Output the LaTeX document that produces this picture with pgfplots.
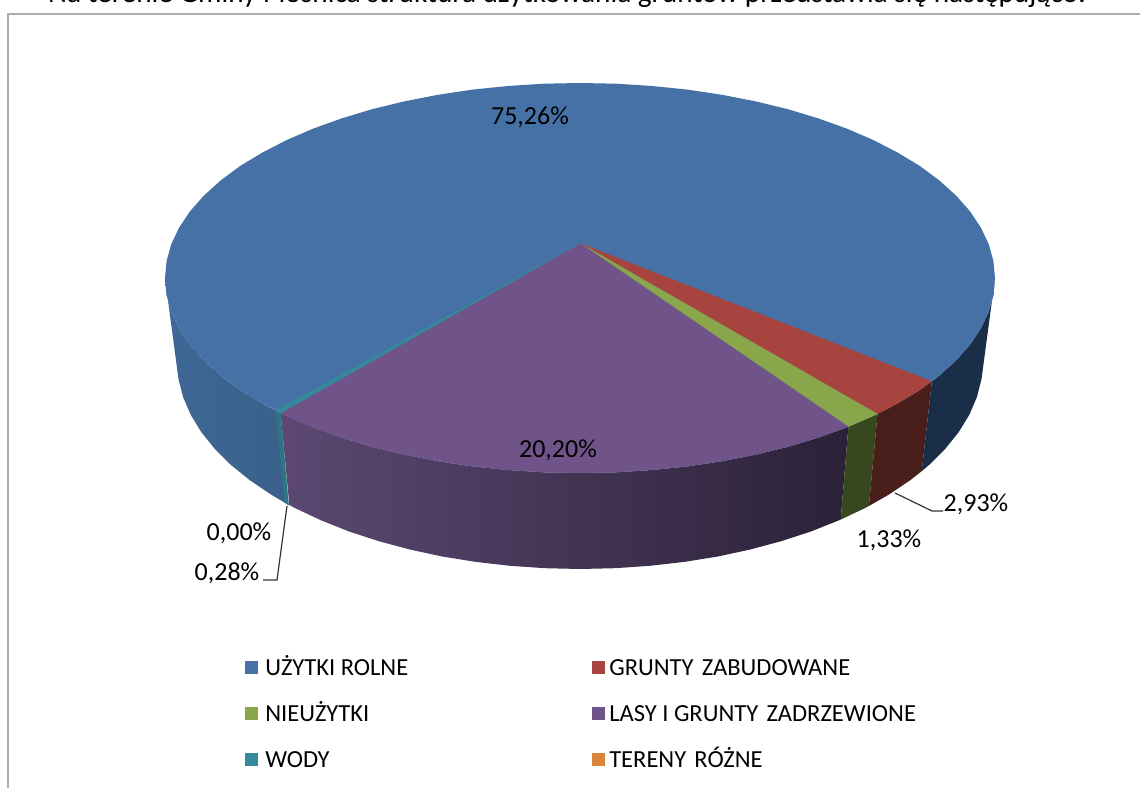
\documentclass[border=0pt]{standalone}
\usepackage{pgfplots}
\pgfplotsset{compat=1.18}
\usepackage{fontspec}
\setmainfont{Carlito}
\definecolor{cblue}{HTML}{4571A6}
\definecolor{cred}{HTML}{A8443F}
\definecolor{cgreen}{HTML}{8AA64B}
\definecolor{cpurple}{HTML}{705389}
\definecolor{cteal}{HTML}{35899B}
\definecolor{corange}{HTML}{DB843D}
\newcommand{\lab}{\fontsize{19.5}{21}\selectfont}
\newcommand{\leg}{\fontsize{18.4}{20}\selectfont}
\begin{document}
\begin{tikzpicture}
\useasboundingbox (0,0) rectangle (855pt,591pt);
\clip (0,0) rectangle (855pt,591pt);
\begin{axis}[at={(0,0)},anchor=south west,scale only axis,width=855pt,height=591pt,
  xmin=0,xmax=1140,ymin=0,ymax=788,y dir=reverse,hide axis,clip=false]
% frame
\addplot[draw=black!32,line width=1.5pt] coordinates {(8,788)(8,14)(1140,14)};
% walls
\addplot[draw=none,left color={rgb,255:red,64;green,104;blue,150},right color={rgb,255:red,58;green,96;blue,138}] coordinates {
(165,278)(166.6,295)(171.3,311.9)(179.2,328.5)(190,344.7)(203.9,360.4)(220.6,375.5)(240,389.9)(262.1,403.3)(276.5,411)
(285.2,502.9)(271.3,494.7)(249.9,480.3)(231,465)(214.8,448.9)(201.3,432.1)(190.7,414.8)(183.1,397.1)(178.5,379.1)};
\addplot[draw=none,left color={rgb,255:red,92;green,72;blue,114},middle color={rgb,255:red,63;green,48;blue,80},right color={rgb,255:red,43;green,33;blue,56}] coordinates {
(280.6,413)(286.6,415.9)(313.2,427.4)(342,437.7)(372.5,446.9)(404.6,454.7)(438.1,461.2)(472.6,466.4)(508,470)(543.8,472.3)(580,473)(616.2,472.3)(652,470)(687.4,466.4)(721.9,461.2)(755.4,454.7)(787.5,446.9)(818,437.7)(846.8,427.4)(848.4,426.7)
(840.7,519.6)(839,520.3)(811.2,531.4)(781.5,541.1)(750.3,549.5)(717.8,556.5)(684.3,561.9)(650,565.8)(615.1,568.2)(580,569)(544.9,568.2)(510,565.8)(475.7,561.9)(442.2,556.5)(409.7,549.5)(378.5,541.1)(348.8,531.4)(321,520.3)(295,508.1)(289.3,505)};
\addplot[draw=cteal!85!black,line width=0.3pt,fill=cteal!85!black] coordinates {(275.5,410.5)(280.6,413)(288.6,505)(284.6,502.5)};
\addplot[draw=none,fill={rgb,255:red,56;green,72;blue,30}] coordinates {(848.4,426.7)(873.4,415.9)(877.5,413.9)(868.9,506)(865,508.1)(840.7,519.6)};
\addplot[draw=none,fill={rgb,255:red,73;green,30;blue,27}] coordinates {(877.5,413.9)(897.9,403.3)(920,389.9)(931.9,381.3)(921.7,471.2)(910.1,480.3)(888.7,494.7)(868.9,506)};
\addplot[draw=none,fill={rgb,255:red,26;green,46;blue,72}] coordinates {(931.9,381.3)(939.4,375.5)(956.1,360.4)(970,344.7)(980.8,328.5)(988.7,311.9)(993.4,295)(995,278)
(981.5,379.1)(976.9,397.1)(969.3,414.8)(958.7,432.1)(945.2,448.9)(929,465)(921.7,471.2)};
% top surface: whole ellipse in blue
\addplot[draw=none,fill=cblue] coordinates {
(995,278)(993.4,295)(988.7,311.9)(980.8,328.5)(970,344.7)(956.1,360.4)(939.4,375.5)(920,389.9)(897.9,403.3)(873.4,415.9)(846.8,427.4)(818,437.7)(787.5,446.9)(755.4,454.7)(721.9,461.2)(687.4,466.4)(652,470)(616.2,472.3)(580,473)(543.8,472.3)(508,470)(472.6,466.4)(438.1,461.2)(404.6,454.7)(372.5,446.9)(342,437.7)(313.2,427.4)(286.6,415.9)(262.1,403.3)(240,389.9)(220.6,375.5)(203.9,360.4)(190,344.7)(179.2,328.5)(171.3,311.9)(166.6,295)(165,278)
(166.6,261)(171.3,244.1)(179.2,227.5)(190,211.3)(203.9,195.6)(220.6,180.5)(240,166.1)(262.1,152.7)(286.6,140.1)(313.2,128.6)(342,118.3)(372.5,109.1)(404.6,101.3)(438.1,94.8)(472.6,89.6)(508,86)(543.8,83.7)(580,83)(616.2,83.7)(652,86)(687.4,89.6)(721.9,94.8)(755.4,101.3)(787.5,109.1)(818,118.3)(846.8,128.6)(873.4,140.1)(897.9,152.7)(920,166.1)(939.4,180.5)(956.1,195.6)(970,211.3)(980.8,227.5)(988.7,244.1)(993.4,261)};
\addplot[draw=none,fill=cred] coordinates {(580,243)(931.9,381.3)(920,389.9)(897.9,403.3)(877.5,413.9)};
\addplot[draw=none,fill=cgreen] coordinates {(580,243)(877.5,413.9)(873.4,415.9)(848.4,426.7)};
\addplot[draw=none,fill=cpurple] coordinates {(580,243)(848.4,426.7)(846.8,427.4)(818,437.7)(787.5,446.9)(755.4,454.7)(721.9,461.2)(687.4,466.4)(652,470)(616.2,472.3)(580,473)(543.8,472.3)(508,470)(472.6,466.4)(438.1,461.2)(404.6,454.7)(372.5,446.9)(342,437.7)(313.2,427.4)(286.6,415.9)(280.6,413)};
\addplot[draw=cteal,line width=0.4pt,fill=cteal] coordinates {(580,243)(280.6,413)(275.5,410.5)};
% leader lines
\addplot[draw=black!80,line width=0.9pt] coordinates {(263,580)(277,580)(287,506)};
\addplot[draw=black!80,line width=0.9pt] coordinates {(895,493)(932,511)(943,511)};
% legend keys
\addplot[only marks,mark=square*,mark size=4.6pt,color=cblue] coordinates {(251,667)};
\addplot[only marks,mark=square*,mark size=4.6pt,color=cred] coordinates {(598,667)};
\addplot[only marks,mark=square*,mark size=4.6pt,color=cgreen] coordinates {(251,713)};
\addplot[only marks,mark=square*,mark size=4.6pt,color=cpurple] coordinates {(598,713)};
\addplot[only marks,mark=square*,mark size=4.6pt,color=cteal] coordinates {(251,759)};
\addplot[only marks,mark=square*,mark size=4.6pt,color=corange] coordinates {(598,759)};
% legend text
\node[anchor=base west,inner sep=0pt] at (axis cs:265,675) {\leg UŻYTKI ROLNE};
\node[anchor=base west,inner sep=0pt] at (axis cs:609,675) {\leg GRUNTY\hspace{2pt} ZABUDOWANE};
\node[anchor=base west,inner sep=0pt] at (axis cs:265,721) {\leg NIEUŻYTKI};
\node[anchor=base west,inner sep=0pt] at (axis cs:609,721) {\leg LASY I GRUNTY\hspace{2pt} ZADRZEWIONE};
\node[anchor=base west,inner sep=0pt] at (axis cs:265,767) {\leg WODY};
\node[anchor=base west,inner sep=0pt] at (axis cs:609,767) {\leg TERENY\hspace{2pt} RÓŻNE};
% data labels
\node[anchor=base,inner sep=0pt] at (axis cs:530,124.5) {\lab 75,26\%};
\node[anchor=base,inner sep=0pt] at (axis cs:558,457.5) {\lab 20,20\%};
\node[anchor=base,inner sep=0pt] at (axis cs:239,540.5) {\lab 0,00\%};
\node[anchor=base,inner sep=0pt] at (axis cs:227,580.5) {\lab 0,28\%};
\node[anchor=base,inner sep=0pt] at (axis cs:976,511.5) {\lab 2,93\%};
\node[anchor=base,inner sep=0pt] at (axis cs:889,547.5) {\lab 1,33\%};
% clipped text line above the chart
\node[anchor=base,inner sep=0pt] at (axis cs:567,3) {\fontsize{22}{24}\selectfont Na terenie Gminy Płośnica struktura użytkowania gruntów przedstawia się następująco:};
\end{axis}
\end{tikzpicture}
\end{document}
